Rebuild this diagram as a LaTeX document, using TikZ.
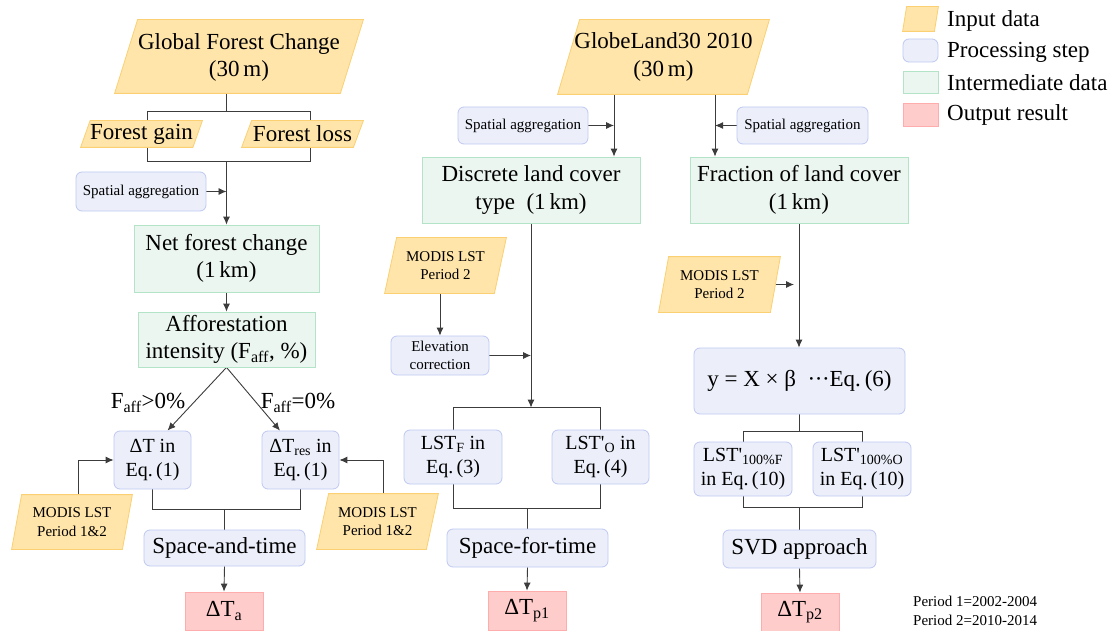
\documentclass[tikz,border=0pt]{standalone}
\usepackage{fontspec}
\setmainfont{Liberation Serif}
\usetikzlibrary{arrows.meta,backgrounds,calc}
\definecolor{infill}{RGB}{255,229,170}
\definecolor{indraw}{RGB}{250,208,115}
\definecolor{prfill}{RGB}{236,239,250}
\definecolor{prdraw}{RGB}{190,200,240}
\definecolor{imfill}{RGB}{236,246,240}
\definecolor{imdraw}{RGB}{180,228,200}
\definecolor{oufill}{RGB}{255,204,204}
\definecolor{oudraw}{RGB}{255,172,172}
\definecolor{linec}{RGB}{60,60,60}
\newcommand\fbigsize{\fontsize{23}{27.5}\selectfont}
\newcommand\fmidsize{\fontsize{20}{23.5}\selectfont}
\newcommand\fsmlsize{\fontsize{15}{18.5}\selectfont}
\tikzset{
  fbig/.style={font=\fbigsize},
  fmid/.style={font=\fmidsize},
  fsml/.style={font=\fsmlsize},
  base/.style={inner sep=0pt, align=center, line width=0.8pt},
  inbox/.style={base, rectangle},
  inshape/.style={fill=infill, draw=indraw, line width=0.8pt},
  prbox/.style={base, rectangle, rounded corners=6pt, fill=prfill, draw=prdraw},
  imbox/.style={base, rectangle, fill=imfill, draw=imdraw},
  oubox/.style={base, rectangle, fill=oufill, draw=oudraw},
  conn/.style={draw=linec, line width=0.9pt},
  arr/.style={conn, -{Latex[length=8pt,width=7pt]}},
}
\newcommand\para[2]{\path[inshape] ([xshift=#2pt]#1.north west) -- (#1.north east) -- ([xshift=-#2pt]#1.south east) -- (#1.south west) -- cycle;}
\begin{document}
\begin{tikzpicture}[x=1pt,y=-1pt]
\useasboundingbox (0,0) rectangle (1111,631);
% ---------- left column
\node[inbox, minimum width=248pt, minimum height=73pt, fbig] (gfc) at (239,57.5) {Global Forest Change\\(30\,m)};
\node[inbox, minimum width=121pt, minimum height=26pt, fbig] (gain) at (141.5,134) {Forest gain};
\node[inbox, minimum width=121pt, minimum height=26pt, fbig] (loss) at (302.5,134) {Forest loss};
\node[prbox, minimum width=130pt, minimum height=39pt, fsml] (spL) at (141,191.5) {Spatial aggregation};
\node[imbox, minimum width=185pt, minimum height=67pt, fbig] (net) at (226.5,258.5) {Net forest change\\(1\,km)};
\node[imbox, minimum width=177pt, minimum height=55pt, fbig] (aff) at (226.5,339.5) {Afforestation\\intensity (F\textsubscript{aff}, \%)};
\node[prbox, minimum width=77pt, minimum height=58pt, fmid] (dT) at (152.5,460) {ΔT in\\Eq.\,(1)};
\node[prbox, minimum width=77pt, minimum height=58pt, fmid] (dTres) at (300.5,460) {ΔT\textsubscript{res} in\\Eq.\,(1)};
\node[fbig, inner sep=0pt] (lab1) at (148,403) {F\textsubscript{aff}>0\%};
\node[fbig, inner sep=0pt] (lab2) at (298,403) {F\textsubscript{aff}=0\%};
\node[inbox, minimum width=120pt, minimum height=54pt, fsml] (modL) at (72,522) {MODIS LST\\Period 1\&2};
\node[inbox, minimum width=121pt, minimum height=55pt, fsml] (modR) at (377.5,521.5) {MODIS LST\\Period 1\&2};
\node[prbox, minimum width=161pt, minimum height=36pt, fbig] (sat) at (224.5,548) {Space-and-time};
\node[oubox, minimum width=78pt, minimum height=38pt, fbig] (dTa) at (224,611) {ΔT\textsubscript{a}};
% ---------- middle column
\node[inbox, minimum width=211pt, minimum height=74pt, fbig] (gl) at (663.5,57) {GlobeLand30 2010\\(30\,m)};
\node[prbox, minimum width=130pt, minimum height=37pt, fsml] (spM) at (523,125.5) {Spatial aggregation};
\node[prbox, minimum width=131pt, minimum height=37pt, fsml] (spR) at (802.5,125.5) {Spatial aggregation};
\node[imbox, minimum width=218pt, minimum height=66pt, fbig] (disc) at (531,190) {Discrete land cover\\type\ \ (1\,km)};
\node[imbox, minimum width=218pt, minimum height=66pt, fbig] (frac) at (799,190) {Fraction of land cover\\(1\,km)};
\node[inbox, minimum width=121pt, minimum height=55pt, fsml] (modM) at (445.5,265.5) {MODIS LST\\Period 2};
\node[prbox, minimum width=98pt, minimum height=39pt, fsml] (elev) at (440,355.5) {Elevation\\correction};
\node[prbox, minimum width=98pt, minimum height=54pt, fmid] (lstF) at (453,457) {LST\textsubscript{F} in\\Eq.\,(3)};
\node[prbox, minimum width=97pt, minimum height=54pt, fmid] (lstO) at (600.5,457) {LST\textquotesingle\textsubscript{O} in\\Eq.\,(4)};
\node[prbox, minimum width=161pt, minimum height=38pt, fbig] (sft) at (527.5,548) {Space-for-time};
\node[oubox, minimum width=78pt, minimum height=39pt, fbig] (dTp1) at (527,610.5) {ΔT\textsubscript{p1}};
% ---------- right column
\node[inbox, minimum width=121pt, minimum height=55pt, fsml] (modR2) at (719.5,284.5) {MODIS LST\\Period 2};
\node[prbox, minimum width=211pt, minimum height=66pt, fbig] (ycalc) at (799.5,381) {y = X × β\ \ ·\kern-0.5pt·\kern-0.5pt·Eq.\,(6)};
\node[prbox, minimum width=98pt, minimum height=54pt, fmid] (lF) at (743,469) {LST\textquotesingle\textsubscript{100\%F}\\in Eq.\,(10)};
\node[prbox, minimum width=98pt, minimum height=54pt, fmid] (lO) at (862,469) {LST\textquotesingle\textsubscript{100\%O}\\in Eq.\,(10)};
\node[prbox, minimum width=153pt, minimum height=38pt, fbig] (svd) at (799.5,549) {SVD approach};
\node[oubox, minimum width=78pt, minimum height=38pt, fbig] (dTp2) at (800,612) {ΔT\textsubscript{p2}};
% ---------- legend
\node[inbox, minimum width=35pt, minimum height=24pt] (lg1) at (920.5,19) {};
\node[prbox, minimum width=35pt, minimum height=23pt] (lg2) at (920.5,50.5) {};
\node[imbox, minimum width=35pt, minimum height=22pt] (lg3) at (920.5,82) {};
\node[oubox, minimum width=35pt, minimum height=23pt] (lg4) at (920.5,114.5) {};
\node[fbig, anchor=west, inner sep=0pt] (lt1) at (947,21) {Input data};
\node[fbig, anchor=west, inner sep=0pt] (lt2) at (947,52.5) {Processing step};
\node[fbig, anchor=west, inner sep=0pt] (lt3) at (947,83) {Intermediate data};
\node[fbig, anchor=west, inner sep=0pt] (lt4) at (947,114.5) {Output result};
\node[fsml, anchor=west, inner sep=0pt, align=left] (note) at (913,611) {Period 1=2002-2004\\Period 2=2010-2014};
% ---------- connectors and parallelograms (behind text)
\begin{pgfonlayer}{background}
  % left column
  \coordinate (xa) at (147,0);
  \coordinate (xb) at (310,0);
  \coordinate (t1) at (gfc.south -| net.north);
  \coordinate (b1) at ($(t1)+(0,17)$);
  \coordinate (b2) at ($(gain.south)+(0,14)$);
  \draw[conn] (t1) -- (b1);
  \draw[conn] (b1 -| xa) -- (b2 -| xa) -- (b2 -| xb) -- (b1 -| xb) -- cycle;
  \draw[arr] (b2 -| net.north) -- (net.north);
  \draw[arr] (spL.east) -- (spL.east -| net.north);
  \draw[arr] (net.south) -- (aff.north);
  \draw[arr] (aff.south) -- ([xshift=15pt]dT.north);
  \draw[arr] (aff.south) -- ([xshift=-20.5pt]dTres.north);
  \draw[arr] ([xshift=6pt]modL.north) |- (dT.west);
  \draw[arr] ([xshift=5.5pt]modR.north) |- (dTres.east);
  \coordinate (b3) at ($(dT.south)+(0,20)$);
  \draw[conn] (dT.south) -- (b3) -- (b3 -| dTres.south) -- (dTres.south);
  \draw[conn] (b3 -| sat.north) -- (sat.north);
  \draw[arr] (sat.south) -- (dTa.north);
  % middle column
  \coordinate (g1) at ([xshift=-49.5pt]gl.south);
  \coordinate (g2) at ([xshift=51.5pt]gl.south);
  \draw[arr] (g1) -- (g1 |- disc.north);
  \draw[arr] (g2) -- (g2 |- frac.north);
  \draw[arr] (spM.east) -- (spM.east -| g1);
  \draw[arr] (spR.west) -- (spR.west -| g2);
  \draw[arr] (modM.south -| elev.north) -- (elev.north);
  \coordinate (m1) at ($(lstF.north)+(0,-22)$);
  \draw[arr] (disc.south) -- (disc.south |- m1);
  \draw[arr] (elev.east) -- (elev.east -| disc.south);
  \draw[conn] (lstF.north) -- (m1) -- (m1 -| lstO.north) -- (lstO.north);
  \coordinate (m2) at ($(lstF.south)+(0,24)$);
  \draw[conn] (lstF.south) -- (m2) -- (m2 -| lstO.south) -- (lstO.south);
  \draw[conn] (m2 -| sft.north) -- (sft.north);
  \draw[arr] (sft.south) -- (dTp1.north);
  % right column
  \draw[arr] (frac.south) -- (frac.south |- ycalc.north);
  \draw[arr] ([xshift=-5pt]modR2.east) -- ([xshift=-5pt]modR2.east -| frac.south);
  \coordinate (r1) at ($(lF.north)+(0,-10)$);
  \draw[conn] (ycalc.south) -- (ycalc.south |- r1);
  \draw[conn] (lF.north) -- (r1) -- (r1 -| lO.north) -- (lO.north);
  \coordinate (r2) at ($(lF.south)+(0,11)$);
  \draw[conn] (lF.south) -- (r2) -- (r2 -| lO.south) -- (lO.south);
  \draw[conn] (r2 -| svd.north) -- (svd.north);
  \draw[arr] (svd.south) -- (dTp2.north);
  % parallelograms
  \path[inshape] ([xshift=23pt,yshift=1pt]gfc.north west) -- ([yshift=1pt]gfc.north east) -- ([xshift=-23pt,yshift=1pt]gfc.south east) -- ([yshift=1pt]gfc.south west) -- cycle;
  \para{gain}{9.5}
  \para{loss}{10}
  \para{modL}{10}
  \para{modR}{12}
  \para{gl}{22}
  \para{modM}{12}
  \para{modR2}{10}
  \para{lg1}{4}
\end{pgfonlayer}
\end{tikzpicture}
\end{document}
